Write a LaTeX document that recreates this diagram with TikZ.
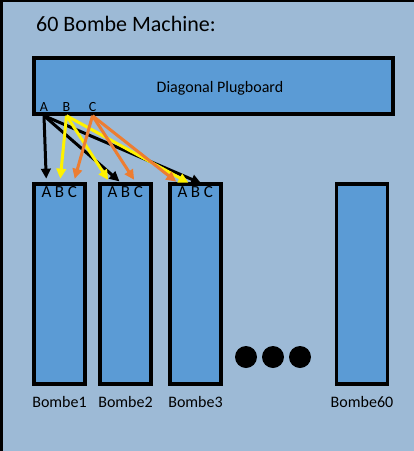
\documentclass[tikz,border=0pt]{standalone}
\usepackage{fontspec}
\setmainfont{Carlito}
\usetikzlibrary{arrows.meta,positioning}
\definecolor{paper}{HTML}{9DBAD6}
\definecolor{boxblue}{HTML}{5B9BD5}
\definecolor{wireorange}{HTML}{ED7D31}
\begin{document}
\begin{tikzpicture}[x=1pt,y=-1pt,
  unit/.style={draw=black,line width=3.5pt,fill=boxblue,inner sep=0pt},
  wire/.style={line width=3pt,shorten >=8pt,-{Triangle[length=10pt,width=9.5pt]}},
  lbl/.style={font=\fontsize{16}{19}\selectfont,inner sep=0pt}]
  \useasboundingbox (0,0) rectangle (414,451);
  \fill[paper] (0,0) rectangle (414,451);
  \draw[line width=2.5pt] (1.25,451)--(1.25,0.5)--(414,0.5);
  \node[font=\fontsize{22}{26}\selectfont,anchor=base west,inner sep=0pt] (title) at (36,31) {60 Bombe Machine:};
  % plugboard
  \node[unit,minimum width=359pt,minimum height=56pt] (plug) at (213.5,86) {};
  \node[lbl,anchor=base] (plabel) at (220,92) {Diagonal Plugboard};
  \foreach \c/\x in {A/44,B/66.5,C/92.5}
    \node[font=\fontsize{14}{16}\selectfont,inner sep=0pt,anchor=base] (p\c) at (\x,111) {\c};
  % bombes
  \foreach \n/\x in {1/59.5,2/125.5,3/195.5,60/362}{
    \node[unit,minimum width=51pt,minimum height=200pt] (b\n) at (\x,284) {};
    \node[lbl,below=10pt of b\n] (l\n) {Bombe\n};
  }
  \foreach \n in {1,2,3}
    \foreach \c/\dx in {A/-13,B/0,C/13}
      \path (b\n.north) ++(\dx,15.5) node[font=\fontsize{17}{20}\selectfont,inner sep=0pt,anchor=base] (b\n\c) {\c};
  \foreach \x in {246,273,300}
    \fill (\x,357) circle (11pt);
  % wiring
  \foreach \from/\to/\col in {A/1A/black,A/2B/black,A/3C/black,
      B/1B/yellow,B/2A/yellow,B/3B/yellow,
      C/1C/wireorange,C/2C/wireorange,C/3A/wireorange}
    \draw[wire,\col] (p\from |- plug.south) -- (b\to.north);
\end{tikzpicture}
\end{document}
